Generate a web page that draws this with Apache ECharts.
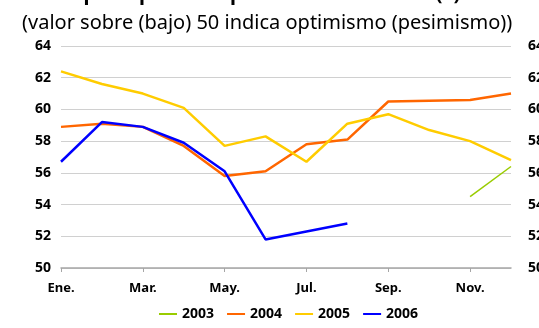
<!DOCTYPE html>
<html>
<head>
<meta charset="utf-8">
<script src="https://cdn.jsdelivr.net/npm/echarts@6/dist/echarts.min.js"></script>
<style>
  html, body { margin: 0; padding: 0; background: #fff; }
  #chart { width: 539px; height: 328px; }
</style>
</head>
<body>
<div id="chart"></div>
<script>
// Monthly categories (labels shown every other month)
const months = ['Ene.', 'Feb.', 'Mar.', 'Abr.', 'May.', 'Jun.', 'Jul.', 'Ago.', 'Sep.', 'Oct.', 'Nov.', 'Dic.'];

// Index values by year (null = no data)
const y2003 = [null, null, null, null, null, null, null, null, null, null, 54.5, 56.4];
const y2004 = [58.9, 59.1, 58.9, 57.7, 55.8, 56.1, 57.8, 58.1, 60.5, 60.55, 60.6, 61.0];
const y2005 = [62.4, 61.6, 61.0, 60.1, 57.7, 58.3, 56.7, 59.1, 59.7, 58.7, 58.0, 56.8];
const y2006 = [56.7, 59.2, 58.9, 57.9, 56.1, 51.8, 52.3, 52.8, null, null, null, null];

const yMin = 50, yMax = 64, yStep = 2;

const FONT = 'Noto Sans';

const chart = echarts.init(document.getElementById('chart'), null, { renderer: 'canvas' });

const yLabelStyle = { color: '#000', fontWeight: 'bold', fontSize: 14, fontFamily: FONT };
const xLabelStyle = { color: '#000', fontWeight: 'bold', fontSize: 13, fontFamily: FONT };

function lineSeries(name, data, color, width) {
  return {
    name: name,
    type: 'line',
    data: data,
    showSymbol: false,
    symbol: 'none',
    connectNulls: false,
    lineStyle: { color: color, width: width },
    itemStyle: { color: color },
    animation: false
  };
}

chart.setOption({
  animation: false,
  title: [
    {
      text: 'IMCE: percepción empresarial en minería (*)',
      left: 17, top: -21,
      padding: 5,
      textStyle: { fontFamily: FONT, fontWeight: 'bold', fontSize: 20, color: '#000' }
    },
    {
      text: '(valor sobre (bajo) 50 indica optimismo (pesimismo))',
      left: 17, top: 8,
      padding: 5,
      textStyle: { fontFamily: FONT, fontWeight: 'normal', fontSize: 20, color: '#000' }
    }
  ],
  grid: { left: 61, right: 28, top: 46, bottom: 60, containLabel: false, outerBoundsMode: 'none' },
  legend: {
    bottom: 2,
    left: 154,
    icon: 'rect',
    itemWidth: 18,
    itemHeight: 2,
    itemGap: 13,
    textStyle: { fontFamily: FONT, fontWeight: 'bold', fontSize: 14, color: '#000' },
    data: ['2003', '2004', '2005', '2006']
  },
  xAxis: {
    type: 'category',
    data: months,
    boundaryGap: false,
    axisLine: { lineStyle: { color: '#a6a6a6', width: 1.5 } },
    axisTick: { show: true, interval: 1, length: 4, lineStyle: { color: '#a6a6a6' } },
    axisLabel: Object.assign({ interval: 1, margin: 14 }, xLabelStyle),
    splitLine: { show: false }
  },
  yAxis: [
    {
      type: 'value',
      min: yMin, max: yMax, interval: yStep,
      position: 'left',
      axisLine: { show: false },
      axisTick: { show: false },
      axisLabel: Object.assign({ margin: 10 }, yLabelStyle),
      splitLine: { lineStyle: { color: '#d0d0d0', width: 1.2 } }
    },
    {
      type: 'value',
      min: yMin, max: yMax, interval: yStep,
      position: 'right',
      axisLine: { show: false },
      axisTick: { show: false },
      axisLabel: Object.assign({ margin: 17 }, yLabelStyle),
      splitLine: { show: false }
    }
  ],
  series: [
    lineSeries('2003', y2003, '#99cc00', 1.5),
    lineSeries('2004', y2004, '#ff6600', 2.5),
    lineSeries('2005', y2005, '#ffcc00', 2.5),
    lineSeries('2006', y2006, '#0000ff', 2.5)
  ]
});
</script>
</body>
</html>
